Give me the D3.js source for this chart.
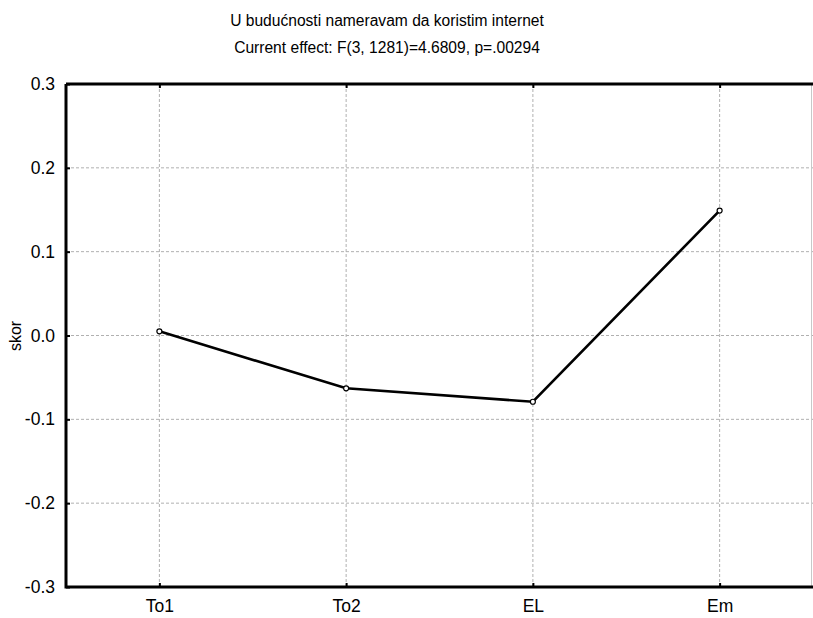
<!DOCTYPE html>
<html><head><meta charset="utf-8">
<script src="https://cdn.jsdelivr.net/npm/d3@7"></script>
<style>body{margin:0;background:#fff}svg{display:block}</style>
</head><body>
<svg id="c" width="813" height="618"></svg>
<script>
const categories = ["To1", "To2", "EL", "Em"];
const values = [0.005, -0.063, -0.079, 0.149];
const yTicks = [-0.3, -0.2, -0.1, 0.0, 0.1, 0.2, 0.3];
const title1 = "U budućnosti nameravam da koristim internet";
const title2 = "Current effect: F(3, 1281)=4.6809, p=.00294";
const yLabel = "skor";

const svg = d3.select("#c");
const L = 66, R = 813, T = 84, B = 587;
const font = "Liberation Sans, Arial, sans-serif";
const x = d3.scalePoint().domain(categories).range([L, R]).padding(0.5);
const y = d3.scaleLinear().domain([-0.3, 0.3]).range([B, T]);

// grid
const g = svg.append("g");
g.selectAll(".vg").data(categories).join("line")
  .attr("x1", d => x(d)).attr("x2", d => x(d)).attr("y1", T).attr("y2", B)
  .attr("stroke", "#b0b0b0").attr("stroke-width", 1).attr("stroke-dasharray", "3,2");
g.selectAll(".hg").data(yTicks.slice(1, -1)).join("line")
  .attr("x1", L).attr("x2", R).attr("y1", d => y(d)).attr("y2", d => y(d))
  .attr("stroke", "#b0b0b0").attr("stroke-width", 1).attr("stroke-dasharray", "3,2");
svg.append("line").attr("x1", R - 1.5).attr("x2", R - 1.5).attr("y1", T).attr("y2", B)
  .attr("stroke", "#c8c8c8");

// axes
const xa = svg.append("g").attr("transform", `translate(0,${B})`)
  .call(d3.axisBottom(x).tickSize(-4).tickPadding(13));
xa.select(".domain").remove();
const xt = svg.append("g").attr("transform", `translate(0,${T})`)
  .call(d3.axisTop(x).tickSize(-4).tickFormat(""));
xt.select(".domain").remove();
const ya = svg.append("g").attr("transform", `translate(${L},0)`)
  .call(d3.axisLeft(y).tickValues(yTicks).tickSize(-4).tickPadding(11)
    .tickFormat(d => d3.format(".1f")(d).replace("\u2212", "-")));
ya.select(".domain").remove();
[xa, xt, ya].forEach(a => {
  a.selectAll(".tick line").attr("stroke", "#000").attr("stroke-width", 2);
  a.selectAll("text").attr("font-family", font).attr("font-size", 17.5).attr("fill", "#000");
});

svg.append("path")
  .attr("d", `M${L},${T}H${R}M${L},${T}V${B}H${R}`)
  .attr("fill", "none").attr("stroke", "#000").attr("stroke-width", 3);

// line
svg.append("path").datum(values)
  .attr("d", d3.line().x((d, i) => x(categories[i])).y(d => y(d)))
  .attr("fill", "none").attr("stroke", "#000").attr("stroke-width", 2.6);
svg.selectAll(".pt").data(values).join("circle")
  .attr("cx", (d, i) => x(categories[i])).attr("cy", d => y(d)).attr("r", 2.5)
  .attr("fill", "#fff").attr("stroke", "#000").attr("stroke-width", 1.2);

// titles
svg.append("text").attr("x", 387).attr("y", 26).attr("text-anchor", "middle")
  .attr("font-family", font).attr("font-size", 15.6).text(title1);
svg.append("text").attr("x", 387).attr("y", 53).attr("text-anchor", "middle")
  .attr("font-family", font).attr("font-size", 15.6).text(title2);
svg.append("text").attr("transform", "translate(21,336) rotate(-90)").attr("text-anchor", "middle")
  .attr("font-family", font).attr("font-size", 16).text(yLabel);
</script>
</body></html>
